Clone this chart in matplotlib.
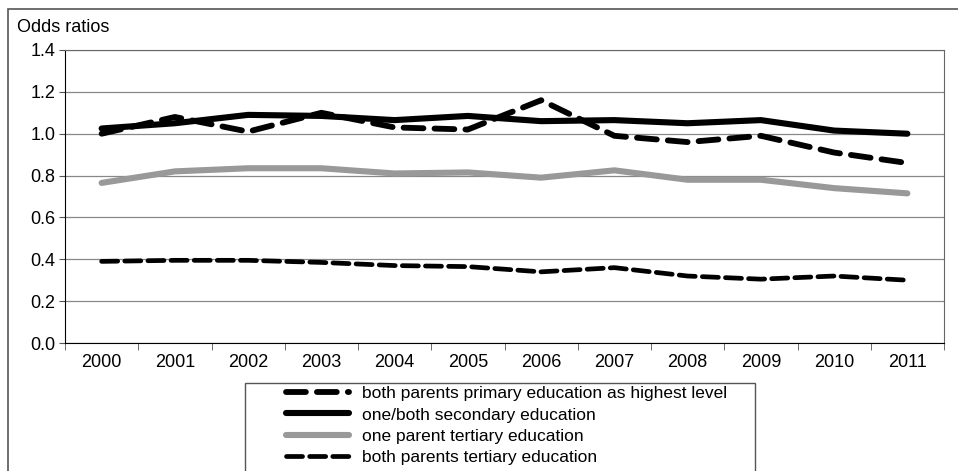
import matplotlib
matplotlib.use("Agg")
import matplotlib.pyplot as plt
from matplotlib.patches import Rectangle

# ---- Data -------------------------------------------------------------------
years = ["2000", "2001", "2002", "2003", "2004", "2005",
         "2006", "2007", "2008", "2009", "2010", "2011"]
primary   = [1.00, 1.08, 1.01, 1.10, 1.03, 1.02, 1.16, 0.99, 0.96, 0.99, 0.91, 0.86]
secondary = [1.025, 1.05, 1.09, 1.085, 1.065, 1.085, 1.06, 1.065, 1.05, 1.065, 1.015, 1.00]
one_tert  = [0.765, 0.82, 0.835, 0.835, 0.81, 0.815, 0.79, 0.825, 0.78, 0.78, 0.74, 0.715]
both_tert = [0.39, 0.395, 0.395, 0.385, 0.37, 0.365, 0.34, 0.36, 0.32, 0.305, 0.32, 0.30]
labels = ["both parents primary education as highest level",
          "one/both secondary education",
          "one parent tertiary education",
          "both parents tertiary education"]

# ---- Plot -------------------------------------------------------------------
plt.rcParams.update({"font.family": ["Liberation Sans", "DejaVu Sans"], "font.size": 12})
fig = plt.figure(figsize=(9.58, 4.71), dpi=100)
W, H = 958, 471
ax = fig.add_axes([65 / W, 1 - 343 / H, 879 / W, 293 / H])

x = list(range(len(years)))
ax.plot(x, primary, color="black", lw=4.2, dashes=(3.4, 1.9),
        dash_capstyle="round", label=labels[0])
ax.plot(x, secondary, color="black", lw=4.4, solid_capstyle="round", label=labels[1])
ax.plot(x, one_tert, color="#999999", lw=4.4, solid_capstyle="round", label=labels[2])
ax.plot(x, both_tert, color="black", lw=3.4, dashes=(3.4, 1.5),
        dash_capstyle="round", label=labels[3])

ax.set_xlim(-0.5, len(years) - 0.5)
ax.set_ylim(0, 1.4)
ax.set_yticks([0, 0.2, 0.4, 0.6, 0.8, 1.0, 1.2, 1.4])
ax.set_yticklabels([f"{v:.1f}" for v in ax.get_yticks()], fontsize=13)
ax.set_xticks(x)
ax.set_xticklabels(years, fontsize=13)
ax.set_xticks([i - 0.5 for i in range(len(years) + 1)], minor=True)
ax.tick_params(axis="x", which="major", length=0, pad=8)
ax.tick_params(axis="x", which="minor", length=5, color="#555555", direction="out")
ax.tick_params(axis="y", length=4, color="#555555", direction="out", pad=3)

ax.grid(axis="y", color="#888888", lw=0.9)
ax.set_axisbelow(True)
for s in ["top", "right"]:
    ax.spines[s].set_color("#666666")
ax.spines["left"].set_color("black")
ax.spines["bottom"].set_color("black")

fig.text(17 / W, 1 - 27 / H, "Odds ratios", fontsize=13, va="center", ha="left")

# legend: frameless, with a separate box drawn like the original
leg = fig.legend(loc="upper left", bbox_to_anchor=(286 / W, 1 - 386 / H),
                 fontsize=12.5, frameon=False, handlelength=3.6,
                 handletextpad=0.75, labelspacing=0.36, borderpad=0,
                 borderaxespad=0)
fig.patches.append(Rectangle((245 / W, -0.05), 510 / W, 0.05 + 1 - 383 / H,
                             transform=fig.transFigure, fill=False,
                             edgecolor="#555555", lw=1.0))

# outer chart border
fig.patches.append(Rectangle((8 / W, -0.1), 1.0, 1 - 9 / H + 0.1,
                             transform=fig.transFigure, fill=False,
                             edgecolor="#555555", lw=1.2))

plt.savefig("out.png", dpi=100)
